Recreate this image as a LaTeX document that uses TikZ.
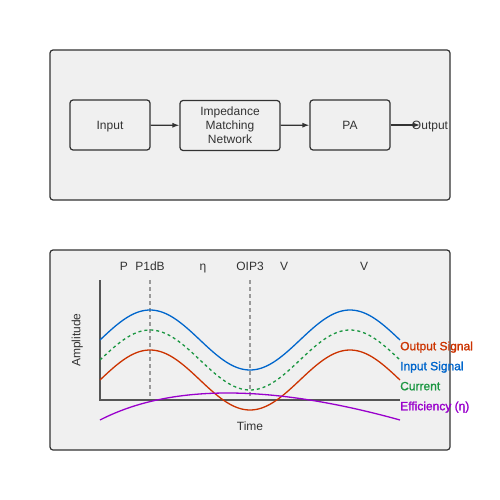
\documentclass[tikz,border=0pt]{standalone}
\usepackage{fontspec}
\setmainfont{Liberation Sans}
\newfontfamily\legendfont{Liberation Sans}[FakeBold=1.2]
\usetikzlibrary{arrows.meta}
\definecolor{panelfill}{HTML}{F0F0F0}
\definecolor{edge}{HTML}{333333}
\definecolor{axis}{HTML}{555555}
\definecolor{guide}{HTML}{999999}
\definecolor{sigblue}{HTML}{0066CC}
\definecolor{sigred}{HTML}{CC3300}
\definecolor{siggreen}{HTML}{1A9641}
\definecolor{sigpurple}{HTML}{9900CC}
\begin{document}
\begin{tikzpicture}
  [x=1pt,y=-1pt,every node/.style={font=\fontsize{12}{13}\selectfont,text=edge},
   tag/.style={text height=9.5pt,text depth=1pt},
   panel/.style={draw=edge,fill=panelfill,line width=1.2pt,rounded corners=3pt},
   block/.style={draw=edge,line width=1.2pt,rounded corners=3pt,minimum width=80pt,minimum height=50pt,align=center,font=\fontsize{12}{14}\selectfont},
   link/.style={draw=edge,line width=1.2pt,-{Latex[length=7pt,width=5pt]}},
   legend/.style={tag,anchor=west,inner sep=0pt,font=\fontsize{12}{13}\legendfont}]
  \useasboundingbox[fill=white] (0,0) rectangle (500,500);
  \path[panel] (50,50) rectangle (450,200);
  \path[panel] (50,250) rectangle (450,450);

  \node[block,tag] (n1) at (110,125) {Input};
  \node[block,minimum width=100pt] (n2) at (230,125.5) {Impedance\\Matching\\Network};
  \node[block,tag] (n3) at (350,125) {PA};
  \node[tag,inner sep=0pt] (n4) at (430,125) {Output};
  \coordinate (n5) at (420,125);

  \foreach \from/\to in {n1/n2,n2/n3,n3/n5}
    \draw[link] (\from) -- (\to);

  % chart
  \draw[guide,line width=1.2pt,dash pattern=on 4pt off 3pt] (150,280) -- (150,400);
  \draw[guide,line width=1.2pt,dash pattern=on 4pt off 3pt] (250,280) -- (250,400);
  \draw[axis,line width=1.5pt] (100,280) -- (100,400) -- (400,400);
  \draw[sigblue,line width=1.3pt] plot[domain=100:400,samples=120,smooth] (\x,{340-30*sin(1.8*(\x-100))});
  \draw[siggreen,line width=1.3pt,dash pattern=on 3pt off 3pt] plot[domain=100:400,samples=120,smooth] (\x,{360-30*sin(1.8*(\x-100))});
  \draw[sigred,line width=1.3pt] plot[domain=100:400,samples=120,smooth] (\x,{380-30*sin(1.8*(\x-100))});
  \draw[sigpurple,line width=1.3pt] (100,420) .. controls (170,384) and (270,384) .. (400,420);

  \node[tag] (p1) at (124,266) {P};
  \node[tag] (p2) at (150,266) {P1dB};
  \node[tag] (p3) at (203,266) {η};
  \node[tag] (p4) at (250,266) {OIP3};
  \node[tag] (p5) at (284,266) {V};
  \node[tag] (p6) at (364,266) {V};
  \node[tag,rotate=90] (ya) at (76,340) {Amplitude};
  \node[tag] (xa) at (250,426) {Time};

  \node[legend,text=sigred] (l1) at (400,346) {Output Signal};
  \node[legend,text=sigblue] (l2) at (400,366) {Input Signal};
  \node[legend,text=siggreen] (l3) at (400,386) {Current};
  \node[legend,text=sigpurple] (l4) at (400,406) {Efficiency (η)};
\end{tikzpicture}
\end{document}
